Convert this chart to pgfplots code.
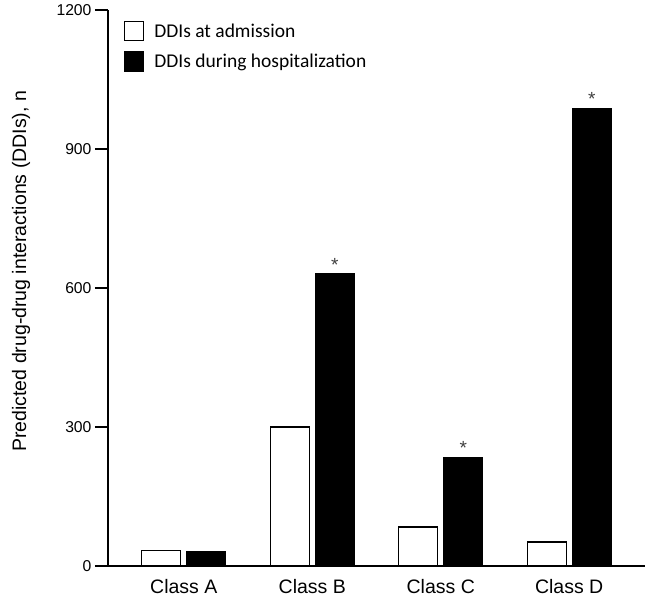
\documentclass[border=0pt]{standalone}
\usepackage{fontspec}
\setmainfont{Liberation Sans}
\newfontfamily\calibri{Carlito}
\usepackage{pgfplots}
\pgfplotsset{compat=1.18}

\begin{document}
\begin{tikzpicture}
\begin{axis}[
  name=ax,
  scale only axis,
  width=537pt, height=556pt,
  xmin=-0.59, xmax=3.59,
  ymin=0, ymax=1200,
  ybar=6pt,
  bar width=39pt,
  axis lines=left,
  axis line style={-, line width=1.3pt},
  tick align=outside,
  major tick length=13pt,
  every tick/.style={line width=1.3pt, black},
  xtick={0,1,2,3},
  xticklabels={Class A, Class B, Class C, Class D},
  xtick style={draw=none},
  xticklabel style={font=\fontsize{19.5}{23}\selectfont, inner sep=0pt, yshift=0pt},
  ytick={0,300,600,900,1200},
  yticklabel style={font=\fontsize{15.7}{18}\selectfont},
  /pgf/number format/assume math mode=true,
  /pgf/number format/1000 sep={},
  ylabel={Predicted drug-drug interactions (DDIs), n},
  ylabel style={font=\fontsize{19.5}{23}\selectfont, at={(axis description cs:-0.162,0.53)}, rotate=0, anchor=center},
  legend style={at={(axis description cs:0,1)}, anchor=north west, draw=none,
    xshift=16pt, yshift=-11pt, font=\calibri\fontsize{19.5}{23}\selectfont,
    row sep=10pt, inner sep=0pt},
  legend cell align=left,
  every axis plot post/.append style={
    legend image code/.code={\draw[##1, line width=1.2pt] (0pt,-9.5pt) rectangle (19pt,9.5pt); \path (27pt,0pt);}},
  point meta=explicit symbolic,
]

\addplot[draw=black, fill=white, line width=1.2pt] coordinates {
  (0, 34) (1, 300) (2, 84) (3, 52)
};
\addlegendentry{DDIs at admission}

\addplot[draw=black, fill=black, line width=1.2pt,
  nodes near coords={\pgfplotspointmeta},
  nodes near coords style={font=\fontsize{19}{20}\selectfont, text=black!75, anchor=south, yshift=-1pt}]
  coordinates {
  (0, 30) [{}]
  (1, 630) [*]
  (2, 235) [*]
  (3, 988) [*]
};
\addlegendentry{DDIs during hospitalization}

\end{axis}
\pgfresetboundingbox
\path[use as bounding box] ([xshift=-108pt, yshift=-30pt]ax.south west) rectangle ([yshift=10pt]ax.north east);
\end{tikzpicture}
\end{document}
